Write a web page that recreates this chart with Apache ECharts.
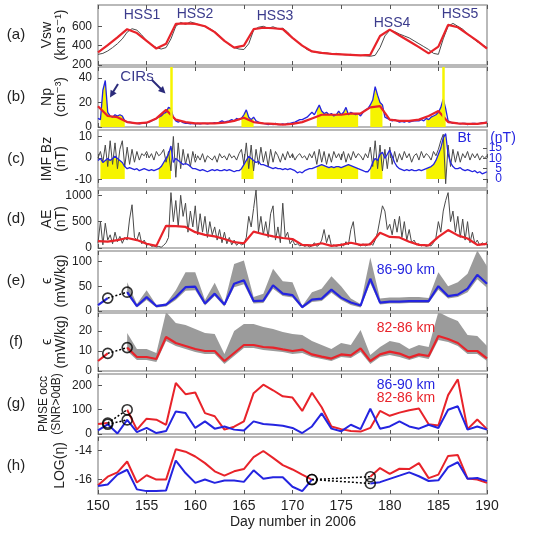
<!DOCTYPE html>
<html><head><meta charset="utf-8">
<script src="https://cdn.jsdelivr.net/npm/echarts@6/dist/echarts.min.js"></script>
<style>html,body{margin:0;padding:0;background:#fff}#c{width:533px;height:537px}</style>
</head><body><div id="c"></div>
<script>
// ---------- DATA ----------
const xTickLabels = [150,155,160,165,170,175,180,185,190];
const dayStart = 150;
// (a) solar wind speed, daily smoothed (red) and 12-hourly raw (gray)
const vswRed = [330,405,485,570,530,450,370,420,625,630,625,600,540,450,380,400,570,585,580,570,480,400,340,325,315,310,305,300,305,500,565,505,445,385,320,390,615,590,520,450,370];
const vswGray = [310,320,345,380,420,470,540,575,560,510,450,410,380,365,380,470,600,640,620,645,630,610,600,575,545,500,450,410,380,365,360,420,560,590,600,580,595,575,580,540,480,440,400,360,340,330,320,325,315,320,310,305,310,300,300,295,290,300,380,500,560,545,520,500,480,450,420,390,360,320,310,470,600,630,600,570,520,480,440,410,380];
// (b) proton density, 6-hourly (blue) and daily (red)
const npBlue = [7,6,30,38, 12,9,8,10, 9,10,9,5, 4,4,3.5,3, 3,2.5,3,3, 3.5,4,5,6, 7,8,9,11, 12,16,15,8, 5,4,5,3.5, 3,3,2.5,3, 2.5,3,2.5,3, 3,2.5,3,3, 3.5,3,4,5, 4,4.5,5,6, 5,7,6,7, 10,14,8,6, 8,5,4,3, 3,2.5,2,2.5, 2,3,2,2, 2.5,2,3,3, 3.5,4,5,6, 6,7,8,10, 12,10,14,18, 13,11,12,10, 11,9,10,13, 10,12,16,10, 12,11,10,11, 9,12,14,15, 18,22,33,26, 20,18,8,7, 6,5,6,5, 4,4.5,4,5, 4,4.5,5,5, 5,6,5,7, 6,8,9,10, 12,16,23,15, 5,4,3,3, 3,2.5,3,3, 2,2.5,3,3, 2.5,3,3.5,3.5, 4];
const npRed = [17,9,8,4,3,3.5,7,14,6,4,3,3,3,3.5,5,7.5,4,3,2.5,2,2.5,4,7,10,10,10,11,11,16,17,6,5,5,6,9,13,4,3,2.5,2.5,3.5];
const cirIntervals = [[150.25,152.75],[156.25,157.5],[164.75,166],[172.5,176.75],[178,179.25],[183.75,185.75]];
const npSpikeDays = [157.5,185.5];
// (c) IMF Bz (gray, left) and Bt (blue, right), 6-hourly
const bzGray = [0,3,-2,6, -4,8,-3,7, -5,4,8,-4, 5,-3,4,-2, 3,-1,2,1, 3,0,2,-1, 3,1,2,4, -2,3,-6,10, -9,7,-5,4, -3,2,-4,3, -2,1,-1,2, -2,1,0,-1, 1,-2,2,0, 1,-1,2,0, 1,-1,2,4, -3,7,-5,6, -6,4,-3,5, -2,3,-4,4, -2,3,1,-2, 2,-1,3,0, 2,-1,1,2, 0,1,-1,2, 0,3,-3,4, -2,3,-3,2, -2,3,0,2, -1,3,-2,2, -1,3,0,2, 1,-1,2,0, 5,-4,8,-5, 6,-6,4,-5, 5,-3,3,-2, 2,-1,3,0, 2,-2,1,2, -1,3,0,2, 1,-1,3,1, 4,8,11,-12, 6,-4,4,-2, 3,-2,2,0, 3,-1,2,0, 2,-1,1,0, 1];
const btBlue = [9,10,8,9, 10,9,10,11, 10,9,8,6, 5,5.5,5,4.5, 5,4,4.5,5, 4.5,4,4.5,4, 4.5,5,6,8, 10,12,16,8, 10,9,8,7, 7.5,7,6,5, 5,4.5,4,4.5, 4,3.5,4,4.5, 4,4.5,4,4, 4.5,4,4.5,4, 3.5,4,4,5, 7,9,11,10, 9,8,8.5,7, 7,6.5,6,5.5, 5,5.5,5,5, 4.5,5,4.5,5, 4.5,4,3,3.5, 3,4,4.5,5, 5,5.5,6,6.5, 7,6.5,6,5.5, 6,5.5,6,6, 5.5,6,6.5,7, 6.5,6,5.5,5, 4.5,4,3.5,3.5, 5,8,10,9, 12,13,10,12, 14,11,8,6, 5,4.5,4,4.5, 4,4.5,4,4, 4.5,4,4.5,5, 5.5,6,7,9, 12,15,20,22, 12,8,6,5, 5,5.5,4.5,4, 4.5,4,3.5,4, 3,3.5,2.5,3, 3.5];
const btTicksA = [0,10];
const btTicksB = [5,15];
// (d) AE index, 6-hourly (gray) and daily (red)
const aeGray = [100,500,60,470, 150,250,80,300, 120,220,90,200, 150,550,820,200, 150,300,80,150, 50,80,30,40, 20,30,15,50, 100,200,1050,500, 900,400,1000,600, 850,300,700,400, 800,250,650,300, 600,200,500,250, 400,150,350,100, 300,80,200,60, 150,50,100,60, 80,200,600,400, 750,1100,300,600, 250,500,200,650, 800,150,400,100, 850,200,300,80, 150,60,80,40, 60,30,50,20, 40,100,30,60, 150,350,100,250, 40,60,30,50, 80,40,120,60, 350,500,100,60, 40,80,40,60, 100,50,150,300, 550,800,700,350, 450,250,550,300, 600,200,500,150, 350,100,150,60, 80,40,60,30, 50,40,100,200, 500,300,700,900, 1050,500,700,300, 600,200,550,150, 500,100,300,80, 150,50,100,60, 120];
const aeRed = [130,120,150,190,150,80,40,420,415,400,300,250,220,170,110,90,310,260,220,190,170,60,50,90,40,60,100,60,70,290,210,200,120,60,50,210,340,240,180,60,80];
// (e) energy dissipation 86-90 km (blue) and its range (gray band)
const epsHiBlue = [12,26,null,38,10,28,10,13,28,48,49,15,35,13,55,62,20,21,52,35,32,8,23,25,43,27,17,11,65,17,19,19,20,20,20,50,30,33,45,73,55];
const epsHiUpper = [null,null,null,58,14,42,12,15,42,78,78,22,57,16,95,102,28,35,85,60,58,10,38,45,70,50,25,14,108,25,27,27,28,28,26,78,50,58,75,122,90];
const epsHiLower = [null,null,null,33,7,22,7,9,22,41,42,11,30,9,48,54,15,16,45,30,27,5,18,20,37,22,12,7,56,13,15,15,16,16,16,43,25,28,38,64,47];
// (f) energy dissipation 82-86 km (red) and range
const epsLoRed = [5,8.8,null,11.7,7,7,6,17,14,12.5,11,10,10,5,9,13,13,12,11.7,10.8,10,10.7,8.3,7.2,6.2,8.3,7.8,11.3,5,8.3,9.7,8.7,6.7,8.3,7.5,17.5,16,14,10,10,6.3];
const epsLoUpper = [null,null,null,19,11,11,9,29.5,24,23,21,19,18.5,8.5,20,23.5,23.5,22,21,19.5,18.5,18,15,13,11,14,13,20.5,8,12,15,14,11,13,12,29.5,27,25,18,17.5,12.5];
const epsLoLower = [null,null,null,10,5.5,5.5,4.5,15,12.5,11,9.5,8.5,8.5,3.5,7.5,11.5,11.5,10.5,10,9.5,8.5,9,7,6,5,7,6.5,9.5,3.5,7,8,7,5.5,7,6,15.5,14.5,12.5,8.5,8.5,5];
// (g) PMSE occurrence
const occHiBlue = [15,40,2,58,8,25,4,12,93,86,25,52,22,31,18,14,52,41,38,34,25,4,31,85,22,11,38,20,104,22,31,52,31,22,38,25,100,114,18,31,18];
const occLoRed = [41,45,null,100,18,63,59,38,210,164,171,86,73,18,30,52,168,203,180,155,150,95,170,110,31,20,12,10,25,95,75,88,98,105,40,35,160,225,20,60,20];
// (h) LOG(eta)
const etaLoRed = [-16.4,-15.8,-15.5,-14.75,-16.2,-15.7,-16.0,-16.0,-13.9,-14.07,-14.4,-14.86,-15.43,-15.73,-15.43,-15.27,-14.45,-14.02,-14.5,-15.0,-15.3,-15.66,-16.0,null,null,null,null,null,-15.8,-15.2,-15.6,-15.25,-15.27,-14.86,-15.9,-15.66,-14.36,-14.3,-15.93,-16.0,-16.23];
const etaHiBlue = [-16.45,-16.34,-15.66,-15.32,-16.68,-16.8,-16.8,-16.75,-14.68,-15.55,-16.23,-16.0,-16.23,-16.07,-16.07,-16.16,-15.36,-15.95,-15.84,-15.84,-16.5,-16.8,-16.0,null,null,null,null,null,-16.27,-16.18,-15.95,-15.73,-15.5,-15.77,-16.1,-16.05,-15.14,-14.8,-15.95,-15.89,-16.11];
const gapDaysEFG = [151,153];
const gapDaysH = [172,178];
const hssLabels = ['HSS1','HSS2','HSS3','HSS4','HSS5'];

// ---------- STYLE ----------
const RED='#e8232a', BLUE='#2424e0', GRAY='#4a4a4a', YEL='#f6f400', BAND='#9b9b9b', FRAME='#a3a3a3', INK='#222';
const FONT='Liberation Sans, Arial, DejaVu Sans, sans-serif';
const L=98, R=46;
const G=[{t:5,h:60},{t:67,h:60},{t:130,h:58},{t:190,h:58},{t:251,h:60},{t:313,h:58},{t:374,h:60},{t:437,h:57}];

function pairs(arr, step){ return arr.map((v,i)=>[dayStart+i*step, v]); }
function inCIR(d){ return cirIntervals.some(([a,b])=>d>=a-1e-9 && d<=b+1e-9); }
function at(arr,d){ return arr[d-dayStart]; }

const grid = G.map(g=>({left:L,right:R,top:g.t,height:g.h,show:true,borderColor:FRAME,borderWidth:1.5,backgroundColor:'#fff'}));
const xAxis=[];
G.forEach((g,i)=>{
  const base={type:'value',gridIndex:i,min:150,max:190,interval:5,axisLine:{show:false},splitLine:{show:false},
    axisTick:{inside:true,length:4,lineStyle:{color:'#555'}}};
  xAxis.push(Object.assign({},base,{position:'bottom',axisLabel:{show:i===7,fontSize:14,color:INK,margin:5,fontFamily:FONT,formatter:v=>String(v)}}));
  xAxis.push(Object.assign({},base,{position:'top',axisLabel:{show:false}}));
});
function yax(gi,min,max,vals,extra,lab){
  return Object.assign({type:'value',gridIndex:gi,min,max,axisLine:{show:false},splitLine:{show:false},
    axisTick:{inside:true,length:4,customValues:vals,lineStyle:{color:'#555'}},
    axisLabel:Object.assign({customValues:vals,fontSize:12,color:INK,margin:6,fontFamily:FONT,showMinLabel:true,showMaxLabel:true,hideOverlap:false,formatter:v=>String(v)},lab||{})},extra||{});
}
const rightLab={color:BLUE,margin:15,align:'right',fontSize:12};
const yAxis=[
  yax(0,200,820,[200,400,600]),
  yax(1,0,49,[0,20,40]),
  yax(2,-14,13,[-10,0,10]),
  yax(2,-4.4,23.8,btTicksA,{position:'right'},rightLab),
  yax(3,0,1100,[0,500,1000]),
  yax(4,0,121,[0,50,100]),
  yax(5,0,29,[0,10,20]),
  yax(6,0,247,[0,100,200]),
  yax(7,-17,-13.05,[-16,-14]),
  yax(2,-4.4,23.8,btTicksB,{position:'right'},rightLab)
];
function line(gi,yi,data,color,width,extra){
  return Object.assign({type:'line',xAxisIndex:gi*2,yAxisIndex:yi,data,symbol:'none',showSymbol:false,
    lineStyle:{color,width},itemStyle:{color},silent:true,animation:false,z:3},extra||{});
}
const series=[];
// (a)
series.push(line(0,0,pairs(vswGray,0.5),GRAY,1));
series.push(line(0,0,pairs(vswRed,1),RED,2.2));
// (b)
series.push(line(1,1,pairs(npBlue,0.25).map(([d,v])=>[d,inCIR(d)?v:null]),YEL,0,{areaStyle:{color:YEL,opacity:1},lineStyle:{width:0},z:2,
  markLine:{silent:true,symbol:['none','none'],label:{show:false},lineStyle:{color:YEL,width:2.5,type:'solid'},data:npSpikeDays.map(d=>({xAxis:d}))}}));
series.push(line(1,1,pairs(npBlue,0.25),BLUE,1.3));
series.push(line(1,1,pairs(npRed,1),RED,2.2));
// (c)
series.push(line(2,3,pairs(btBlue,0.25).map(([d,v])=>[d,inCIR(d)?v:null]),YEL,0,{areaStyle:{color:YEL,opacity:1},lineStyle:{width:0},z:2}));
series.push(line(2,2,pairs(bzGray,0.25),GRAY,1));
series.push(line(2,3,pairs(btBlue,0.25),BLUE,1.3));
// (d)
series.push(line(3,4,pairs(aeGray,0.25),GRAY,1));
series.push(line(3,4,pairs(aeRed,1),RED,2.2));
// band (range) drawn as a polygon through the axes' own coordinate conversion
function band(gi,yi,lower,upper){
  series.push({type:'custom',xAxisIndex:gi*2,yAxisIndex:yi,data:[[dayStart,0]],silent:true,animation:false,z:1,
    renderItem:(params,api)=>{
      const up=[],lo=[];
      upper.forEach((u,i)=>{ if(u!=null && lower[i]!=null){ up.push(api.coord([dayStart+i,u])); lo.push(api.coord([dayStart+i,lower[i]])); } });
      const cs=params.coordSys;
      return {type:'polygon',shape:{points:up.concat(lo.reverse())},style:{fill:BAND,stroke:null},
        clipPath:{type:'rect',shape:{x:cs.x,y:cs.y,width:cs.width,height:cs.height}}};
    }});
}
function gapMarks(gi,yi,arr,days){
  const pts=days.map(d=>[d,at(arr,d)]);
  series.push(line(gi,yi,pts,'#000',1.5,{lineStyle:{color:'#000',width:1.5,type:[2,2]},z:4}));
  series.push({type:'scatter',xAxisIndex:gi*2,yAxisIndex:yi,data:pts,symbol:'circle',symbolSize:10,silent:true,animation:false,
    itemStyle:{color:'rgba(0,0,0,0)',borderColor:'#000',borderWidth:1.6},z:5});
}
// (e)
band(4,5,epsHiLower,epsHiUpper);
series.push(line(4,5,pairs(epsHiBlue,1),BLUE,2.2));
gapMarks(4,5,epsHiBlue,gapDaysEFG);
// (f)
band(5,6,epsLoLower,epsLoUpper);
series.push(line(5,6,pairs(epsLoRed,1),RED,2.2));
gapMarks(5,6,epsLoRed,gapDaysEFG);
// (g)
series.push(line(6,7,pairs(occLoRed,1),RED,2));
series.push(line(6,7,pairs(occHiBlue,1),BLUE,2));
gapMarks(6,7,occLoRed,gapDaysEFG);
gapMarks(6,7,occHiBlue,gapDaysEFG);
// (h)
series.push(line(7,8,pairs(etaLoRed,1),RED,2));
series.push(line(7,8,pairs(etaHiBlue,1),BLUE,2));
gapMarks(7,8,etaLoRed,gapDaysH);
gapMarks(7,8,etaHiBlue,gapDaysH);

// ---------- TEXT ----------
function txt(x,y,text,size,color,rot,extra){
  return Object.assign({type:'text',x,y,rotation:rot?Math.PI/2:0,silent:true,z:10,
    style:{text,font:size+'px '+FONT,fill:color||INK,textAlign:'center',textVerticalAlign:'middle'}},extra||{});
}
const letters=['(a)','(b)','(c)','(d)','(e)','(f)','(g)','(h)'];
const gtx=[];
letters.forEach((s,i)=>gtx.push(txt(16,G[i].t+G[i].h/2,s,15,INK,false)));
const yNames=[['Vsw','(km s⁻¹)'],['Np','(cm⁻³)'],['IMF Bz','(nT)'],['AE','(nT)'],['ϵ','(mW/kg)'],['ϵ','(mW/kg)'],['PMSE occ','(SNR>0dB)'],[null,'LOG(η)']];
yNames.forEach(([a,b],i)=>{
  const cy=G[i].t+G[i].h/2;
  const fs=i===6?12:14;
  if(a) gtx.push(txt(i===6?44:47,cy,a,fs,INK,true));
  gtx.push(txt(i===6?57:(i===7?60:61),cy,b,fs,INK,true));
});
const hssPos=[[142,15],[195,14],[275,16],[392,23],[460,14]];
hssLabels.forEach((s,i)=>gtx.push(txt(hssPos[i][0],hssPos[i][1],s,14,'#3b3b8c',false)));
gtx.push(txt(137,77,'CIRs',15,'#3b3b8c',false));
gtx.push({type:'line',silent:true,z:10,shape:{x1:118,y1:84,x2:111.5,y2:94.5},style:{stroke:'#2b2b7b',lineWidth:2}});
gtx.push({type:'polygon',silent:true,z:10,shape:{points:[[110,97.5],[116.6,93.3],[110.6,89.7]]},style:{fill:'#2b2b7b'}});
gtx.push({type:'line',silent:true,z:10,shape:{x1:152,y1:80,x2:162,y2:90},style:{stroke:'#2b2b7b',lineWidth:2}});
gtx.push({type:'polygon',silent:true,z:10,shape:{points:[[165.5,93.5],[158,91],[163,86]]},style:{fill:'#2b2b7b'}});
gtx.push(txt(406,270,'86-90 km',14,BLUE,false));
gtx.push(txt(406,328,'82-86 km',14,RED,false));
gtx.push(txt(406,385,'86-90 km',14,BLUE,false));
gtx.push(txt(406,398,'82-86 km',14,RED,false));
gtx.push(txt(464,138,'Bt',14,BLUE,false));
gtx.push(txt(503,138,'(nT)',14,BLUE,false));
gtx.push(txt(293,522,'Day number in 2006',14,INK,false));

const chart=echarts.init(document.getElementById('c'),null,{renderer:'canvas'});
chart.setOption({animation:false,textStyle:{fontFamily:FONT},grid,xAxis,yAxis,series,graphic:{elements:gtx}});
</script></body></html>
